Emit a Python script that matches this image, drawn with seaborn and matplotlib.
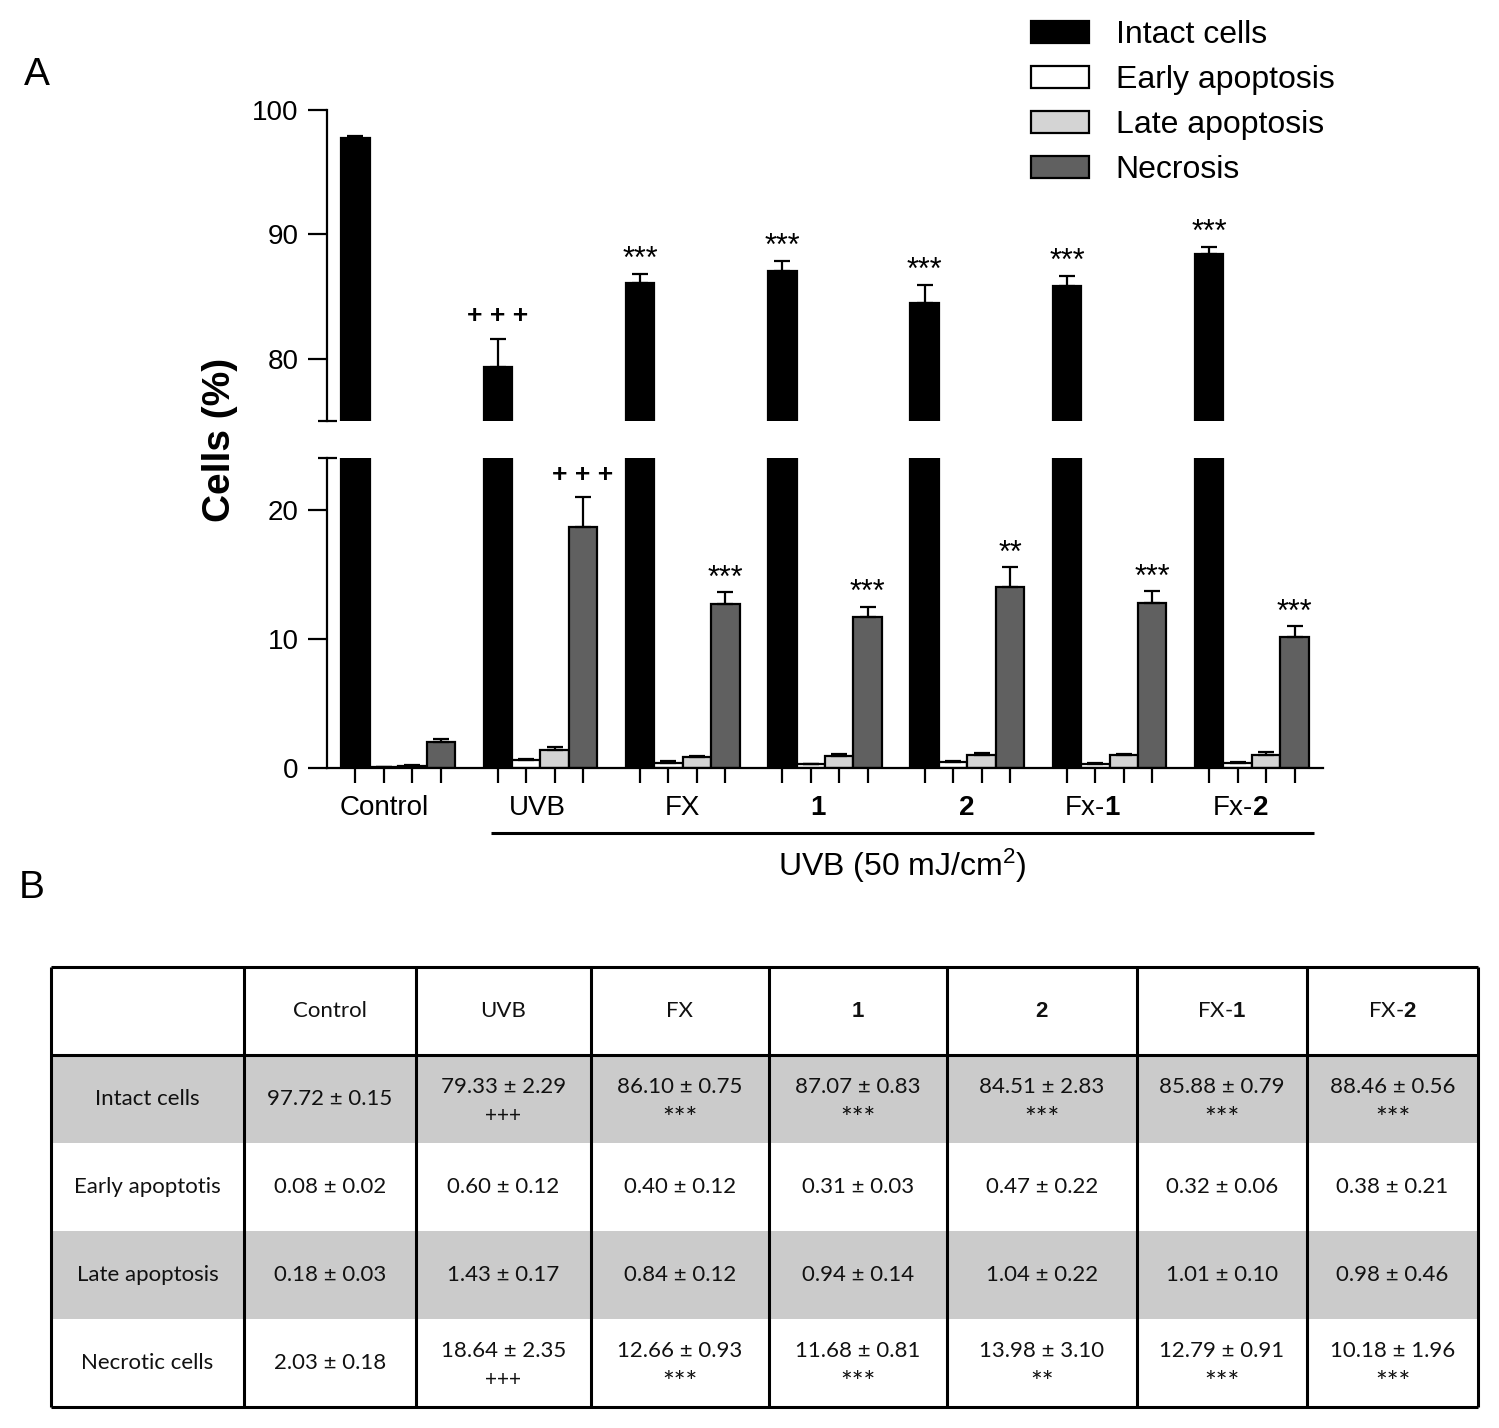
import numpy as np
import pandas as pd
import seaborn as sns
import matplotlib.pyplot as plt
from matplotlib import transforms
from matplotlib.patches import Patch

# x groups and the four cell populations
groups = ['Control', 'UVB', 'FX', '1', '2', 'Fx-1', 'Fx-2']
group_labels = ['Control', 'UVB', 'FX', r'$\mathbf{1}$', r'$\mathbf{2}$',
                r'Fx-$\mathbf{1}$', r'Fx-$\mathbf{2}$']
cell_types = ['Intact cells', 'Early apoptosis', 'Late apoptosis', 'Necrosis']

# mean values (%)
intact = [97.72, 79.33, 86.10, 87.07, 84.51, 85.88, 88.46]
early = [0.08, 0.60, 0.40, 0.31, 0.47, 0.32, 0.38]
late = [0.18, 1.43, 0.84, 0.94, 1.04, 1.01, 0.98]
necrosis = [2.03, 18.64, 12.66, 11.68, 13.98, 12.79, 10.18]

# error bars as drawn in panel A
intact_err = [0.15, 2.29, 0.75, 0.83, 1.45, 0.79, 0.56]
early_err = [0.02, 0.12, 0.12, 0.03, 0.11, 0.06, 0.10]
late_err = [0.03, 0.17, 0.12, 0.14, 0.11, 0.10, 0.25]
necrosis_err = [0.18, 2.35, 0.93, 0.81, 1.55, 0.91, 0.80]

# significance marks
intact_sig = ['', '+++', '***', '***', '***', '***', '***']
necrosis_sig = ['', '+++', '***', '***', '**', '***', '***']

# table B
table_cols = ['Control', 'UVB', 'FX', r'$\mathbf{1}$', r'$\mathbf{2}$',
              r'FX-$\mathbf{1}$', r'FX-$\mathbf{2}$']
table_rows = ['Intact cells', 'Early apoptotis', 'Late apoptosis', 'Necrotic cells']
intact_sd = [0.15, 2.29, 0.75, 0.83, 2.83, 0.79, 0.56]
early_sd = [0.02, 0.12, 0.12, 0.03, 0.22, 0.06, 0.21]
late_sd = [0.03, 0.17, 0.12, 0.14, 0.22, 0.10, 0.46]
necrosis_sd = [0.18, 2.35, 0.93, 0.81, 3.10, 0.91, 1.96]

colors = ['#000000', '#ffffff', '#d4d4d4', '#606060']

sns.set_style('ticks', rc={'axes.edgecolor': 'black', 'text.color': 'black',
                           'xtick.color': 'black', 'ytick.color': 'black'})
plt.rcParams['font.family'] = ['Liberation Sans', 'DejaVu Sans']
plt.rcParams['mathtext.fontset'] = 'custom'
plt.rcParams['mathtext.rm'] = 'Liberation Sans'
plt.rcParams['mathtext.bf'] = 'Liberation Sans:bold'
plt.rcParams['mathtext.default'] = 'regular'

df = pd.DataFrame({
    'group': groups * 4,
    'type': np.repeat(cell_types, len(groups)),
    'value': intact + early + late + necrosis,
    'err': intact_err + early_err + late_err + necrosis_err,
})
df['g'] = pd.Categorical(df['group'], groups)
df['t'] = pd.Categorical(df['type'], cell_types)
ordered = df.sort_values(['g', 't']).reset_index(drop=True)

W, H = 1499, 1428
fig = plt.figure(figsize=(W / 100, H / 100), dpi=100)
ax_top = fig.add_axes([327 / W, 1 - 421 / H, 996 / W, 311 / H])
ax_bot = fig.add_axes([327 / W, 1 - 768 / H, 996 / W, 310 / H])

lw = 1.6
centers = {}
for ax in (ax_top, ax_bot):
    sns.barplot(data=df, x='group', y='value', hue='type', order=groups,
                hue_order=cell_types, palette=colors, saturation=1,
                edgecolor='black', linewidth=lw, errorbar=None, legend=False, ax=ax)
    bars = sorted([p for p in ax.patches if p.get_width() > 0], key=lambda p: p.get_x())
    for p, (_, r) in zip(bars, ordered.iterrows()):
        xc = p.get_x() + p.get_width() / 2
        centers[(r['group'], r['type'])] = xc
        ax.errorbar(xc, r['value'], yerr=[[0], [r['err']]], fmt='none', ecolor='black',
                    elinewidth=lw, capsize=6, capthick=lw)
    ax.set_xlim(-0.5, len(groups) - 0.5)
    ax.set_xlabel('')
    ax.set_ylabel('')
    ax.tick_params(axis='y', length=13.5, width=lw, labelsize=20, pad=7)
    for s in ax.spines.values():
        s.set_linewidth(lw)


def mark(ax, text, x, y):
    if text.startswith('+'):
        ax.annotate(' '.join(text), (x, y), xytext=(0, 11), textcoords='offset points',
                    ha='center', va='baseline', fontsize=19, fontweight='bold')
    else:
        ax.annotate(text, (x, y), xytext=(0, 4), textcoords='offset points',
                    ha='center', va='baseline', fontsize=22)


for i, g in enumerate(groups):
    if intact_sig[i]:
        mark(ax_top, intact_sig[i], centers[(g, 'Intact cells')], intact[i] + intact_err[i])
    if necrosis_sig[i]:
        mark(ax_bot, necrosis_sig[i], centers[(g, 'Necrosis')], necrosis[i] + necrosis_err[i])

# upper part of the broken axis
ax_top.set_ylim(75, 100)
ax_top.set_yticks([80, 90, 100])
ax_top.set_xticks([])
sns.despine(ax=ax_top, bottom=True)

# lower part
ax_bot.set_ylim(0, 24)
ax_bot.set_yticks([0, 10, 20])
ax_bot.set_xticks(sorted(centers.values()))
ax_bot.set_xticklabels([])
ax_bot.tick_params(axis='x', length=11, width=lw)
sns.despine(ax=ax_bot)

for ax, yy in ((ax_top, 0), (ax_bot, 1)):
    ax.plot([-0.009, 0.010], [yy, yy], transform=ax.transAxes, color='black',
            lw=lw, clip_on=False, solid_capstyle='butt')

# group names sit a little off the group centre, as in the original
label_shift = [-0.10, -0.02, 0.0, -0.05, -0.01, -0.12, -0.08]
tr = transforms.blended_transform_factory(ax_bot.transData, ax_bot.transAxes)
for i, lab in enumerate(group_labels):
    ax_bot.text(i + label_shift[i], -0.129, lab, transform=tr, ha='center',
                va='center', fontsize=20)
ax_bot.plot([0.655, 6.44], [-0.21, -0.21], transform=tr, color='black', lw=2.2,
            clip_on=False, solid_capstyle='butt')
ax_bot.text(3.54, -0.316, 'UVB (50 mJ/cm$^{2}$)', transform=tr, ha='center',
            va='center', fontsize=23)

fig.text(220 / W, 1 - 440 / H, 'Cells (%)', rotation=90, fontsize=28,
         fontweight='bold', ha='center', va='center')
fig.text(37 / W, 1 - 75 / H, 'A', fontsize=28, ha='center', va='center')
fig.text(32 / W, 1 - 888 / H, 'B', fontsize=28, ha='center', va='center')

handles = [Patch(facecolor=c, edgecolor='black', linewidth=lw, label=t)
           for c, t in zip(colors, cell_types)]
fig.legend(handles=handles, loc='upper left', bbox_to_anchor=(1031 / W, 1 - 20 / H),
           frameon=False, fontsize=23, handlelength=1.8, handleheight=0.7,
           handletextpad=0.85, labelspacing=0.47, borderpad=0, borderaxespad=0)

# table B
col_w = [193, 172, 175, 178, 178, 190, 170, 171]
edges = np.concatenate([[0], np.cumsum(col_w)])
ax_t = fig.add_axes([51 / W, 1 - 1407 / H, edges[-1] / W, 440 / H])
ax_t.set_xlim(0, edges[-1])
ax_t.set_ylim(5, 0)
ax_t.axis('off')
for r in (1, 3):
    ax_t.axhspan(r, r + 1, color='#cbcbcb', lw=0)
ax_t.vlines(edges, 0, 5, color='black', lw=2.2, clip_on=False)
ax_t.hlines([0, 1, 5], 0, edges[-1], color='black', lw=2.2, clip_on=False)

tfont = dict(family='Lato', fontsize=16, color='#111111', ha='center', va='center')
mids = (edges[:-1] + edges[1:]) / 2
for j, c in enumerate(table_cols):
    ax_t.text(mids[j + 1], 0.5, c, **tfont)
means = [intact, early, late, necrosis]
sds = [intact_sd, early_sd, late_sd, necrosis_sd]
sigs = [intact_sig, [''] * 7, [''] * 7, necrosis_sig]
for i, name in enumerate(table_rows):
    y0 = i + 1.5
    ax_t.text(mids[0], y0, name, **tfont)
    for j in range(len(groups)):
        txt = f'{means[i][j]:.2f} ± {sds[i][j]:.2f}'
        s = sigs[i][j]
        if s:
            ax_t.text(mids[j + 1], y0 - 0.14, txt, **tfont)
            if s.startswith('+'):
                ax_t.text(mids[j + 1], y0 + 0.19, s, **{**tfont, 'fontsize': 15})
            else:
                ax_t.text(mids[j + 1], y0 + 0.24, s, **{**tfont, 'fontsize': 20})
        else:
            ax_t.text(mids[j + 1], y0, txt, **tfont)

fig.savefig('out.png', dpi=100)
